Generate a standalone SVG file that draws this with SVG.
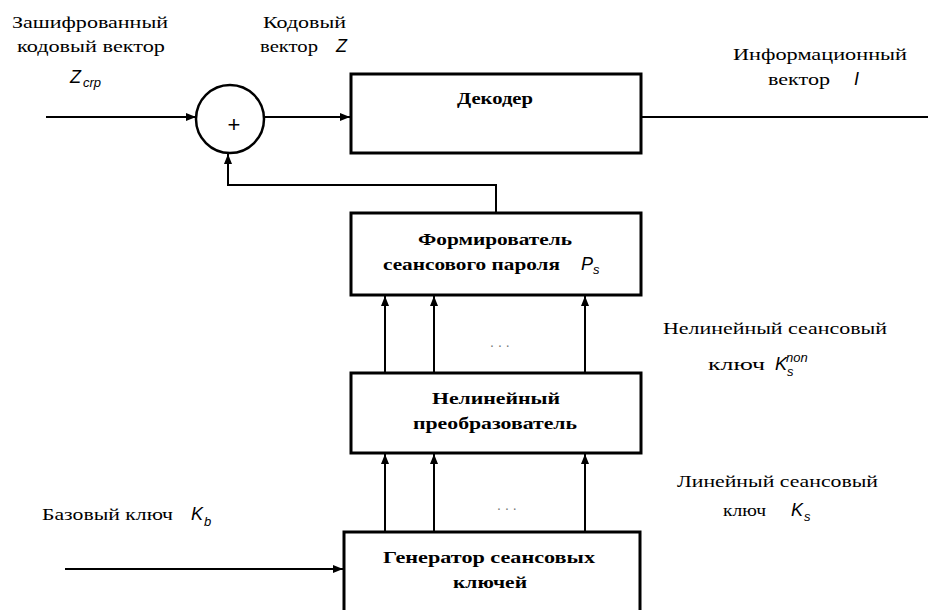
<svg xmlns="http://www.w3.org/2000/svg" width="928" height="610" viewBox="0 0 928 610">
<defs>
<marker id="ah" viewBox="0 0 10 8" refX="10" refY="4" markerWidth="10" markerHeight="8" markerUnits="userSpaceOnUse" orient="auto">
<path d="M0,0 L10,4 L0,8 Z" fill="#000"/>
</marker>
</defs>
<style>
.box{fill:#fff;stroke:#000;stroke-width:3}
.ln{fill:none;stroke:#000;stroke-width:2}
.bl{font-weight:bold;font-size:17px}
.lb{font-size:17px}
.it{font-family:'Liberation Sans',Arial,sans-serif;font-style:italic;font-size:18px}
.sub{font-family:'Liberation Sans',Arial,sans-serif;font-style:italic;font-size:13px}
.dots{font-family:'Liberation Sans',Arial,sans-serif;font-size:14px;fill:#777}
</style>
<rect width="928" height="610" fill="#fff"/>
<g id="connectors">
<line class="ln" x1="46" y1="117" x2="196" y2="117" marker-end="url(#ah)"/>
<line class="ln" x1="264" y1="117" x2="350" y2="117" marker-end="url(#ah)"/>
<line class="ln" x1="641" y1="117" x2="928" y2="117"/>
<polyline class="ln" points="496,213 496,185 228,185 228,154" marker-end="url(#ah)"/>
<line class="ln" x1="385" y1="373" x2="385" y2="296" marker-end="url(#ah)"/>
<line class="ln" x1="434" y1="373" x2="434" y2="296" marker-end="url(#ah)"/>
<line class="ln" x1="585" y1="373" x2="585" y2="296" marker-end="url(#ah)"/>
<line class="ln" x1="385" y1="532" x2="385" y2="454" marker-end="url(#ah)"/>
<line class="ln" x1="434" y1="532" x2="434" y2="454" marker-end="url(#ah)"/>
<line class="ln" x1="585" y1="532" x2="585" y2="454" marker-end="url(#ah)"/>
<line class="ln" x1="65" y1="569" x2="343" y2="569" marker-end="url(#ah)"/>
</g>
<g id="adder">
<ellipse cx="230" cy="119" rx="34" ry="34" fill="#fff" stroke="#000" stroke-width="2.5"/>
<text x="234" y="132" font-family="Liberation Sans,sans-serif" font-size="22" text-anchor="middle">+</text>
</g>
<g font-family="Liberation Serif, serif">
<g id="decoder">
<rect class="box" x="351" y="74" width="290" height="79"/>
<text class="bl" x="457" y="104" textLength="76" lengthAdjust="spacingAndGlyphs">Декодер</text>
</g>
<g id="password">
<rect class="box" x="351" y="213" width="290" height="82"/>
<text class="bl" x="418" y="245" textLength="154" lengthAdjust="spacingAndGlyphs">Формирователь</text>
<text class="bl" x="383" y="270" textLength="177" lengthAdjust="spacingAndGlyphs">сеансового пароля</text>
<text class="it" x="581" y="270">P</text><text class="sub" x="593" y="274">s</text>
</g>
<g id="nonlinear">
<rect class="box" x="351" y="373" width="290" height="80"/>
<text class="bl" x="432" y="404" textLength="128" lengthAdjust="spacingAndGlyphs">Нелинейный</text>
<text class="bl" x="413" y="429" textLength="164" lengthAdjust="spacingAndGlyphs">преобразователь</text>
</g>
<g id="generator">
<rect class="box" x="344" y="532" width="296" height="90"/>
<text class="bl" x="383" y="563" textLength="212" lengthAdjust="spacingAndGlyphs">Генератор сеансовых</text>
<text class="bl" x="453" y="588" textLength="74" lengthAdjust="spacingAndGlyphs">ключей</text>
</g>
<g id="labels">
<text class="lb" x="12" y="28" textLength="156" lengthAdjust="spacingAndGlyphs">Зашифрованный</text>
<text class="lb" x="17" y="52" textLength="148" lengthAdjust="spacingAndGlyphs">кодовый вектор</text>
<text class="it" x="70" y="83">Z</text><text class="sub" x="83" y="87">crp</text>
<text class="lb" x="263" y="28" textLength="83" lengthAdjust="spacingAndGlyphs">Кодовый</text>
<text class="lb" x="260" y="52" textLength="58" lengthAdjust="spacingAndGlyphs">вектор</text>
<text class="it" x="336" y="52">Z</text>
<text class="lb" x="733" y="60" textLength="174" lengthAdjust="spacingAndGlyphs">Информационный</text>
<text class="lb" x="768" y="85" textLength="62" lengthAdjust="spacingAndGlyphs">вектор</text>
<text class="it" x="854" y="85">I</text>
<text class="dots" x="490" y="347" letter-spacing="4">...</text>
<text class="dots" x="497" y="510" letter-spacing="4">...</text>
<text class="lb" x="663" y="334" textLength="224" lengthAdjust="spacingAndGlyphs">Нелинейный сеансовый</text>
<text class="lb" x="708" y="370" textLength="57" lengthAdjust="spacingAndGlyphs">ключ</text>
<text class="it" x="775" y="370">K</text><text class="sub" x="787" y="376">s</text><text class="sub" x="786" y="362">non</text>
<text class="lb" x="677" y="487" textLength="201" lengthAdjust="spacingAndGlyphs">Линейный сеансовый</text>
<text class="lb" x="723" y="516" textLength="43" lengthAdjust="spacingAndGlyphs">ключ</text>
<text class="it" x="791" y="516">K</text><text class="sub" x="804" y="521">s</text>
<text class="lb" x="42" y="520" textLength="131" lengthAdjust="spacingAndGlyphs">Базовый ключ</text>
<text class="it" x="191" y="520">K</text><text class="sub" x="204" y="526">b</text>
</g>
</g>
</svg>
